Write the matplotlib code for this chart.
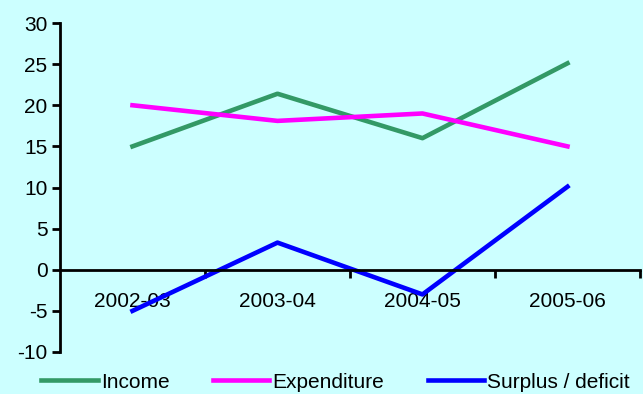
import numpy as np
import matplotlib
matplotlib.use("Agg")
import matplotlib.pyplot as plt
from matplotlib.ticker import FixedLocator

plt.rcParams['font.family'] = ['Liberation Sans', 'DejaVu Sans']
plt.rcParams['axes.unicode_minus'] = False

years = ['2002-03', '2003-04', '2004-05', '2005-06']
income = [15.0, 21.4, 16.0, 25.1]
expenditure = [20.0, 18.1, 19.0, 15.0]
surplus = [-5.0, 3.3, -3.0, 10.1]

bg = '#CCFFFF'
fig = plt.figure(figsize=(6.43, 3.94), dpi=100, facecolor=bg)
ax = fig.add_axes([0.0933, 0.1066, 0.902, 0.835])
ax.set_facecolor(bg)

x = np.arange(len(years))
ax.plot(x, income, color='#339966', lw=3.3, label='Income')
ax.plot(x, expenditure, color='#FF00FF', lw=3.3, label='Expenditure')
ax.plot(x, surplus, color='#0000FF', lw=3.3, label='Surplus / deficit')

ax.set_xlim(-0.5, len(years) - 0.5)
ax.set_ylim(-10, 30)
ax.set_yticks(np.arange(-10, 31, 5))

# category labels centred, ticks on the boundaries
ax.set_xticks(x)
ax.set_xticklabels(years)
ax.xaxis.set_minor_locator(FixedLocator(np.arange(0.5, len(years), 1.0)))
ax.tick_params(axis='x', which='major', length=0, pad=16, labelsize=15)
ax.tick_params(axis='x', which='minor', length=6, width=2, direction='out')
ax.tick_params(axis='y', length=6, width=2, direction='out', labelsize=15, pad=3)

ax.spines['top'].set_visible(False)
ax.spines['right'].set_visible(False)
ax.spines['bottom'].set_position(('data', 0))
ax.spines['left'].set_linewidth(2)
ax.spines['bottom'].set_linewidth(2)

fig.legend(loc='center', bbox_to_anchor=(0.522, 0.03), ncol=3, frameon=False,
           fontsize=15, handlelength=2.7, handletextpad=0.15,
           columnspacing=2.1)

fig.savefig('out.png', dpi=100, facecolor=bg)
